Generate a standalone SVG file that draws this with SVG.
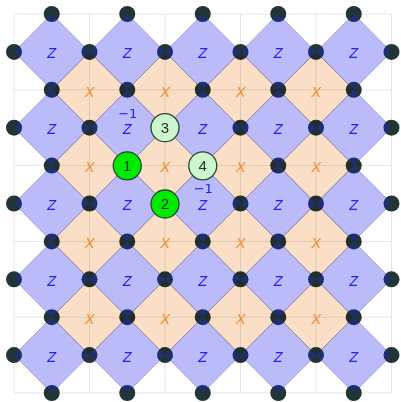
<svg xmlns="http://www.w3.org/2000/svg" width="401" height="402" viewBox="0 0 401 402">
<style>
.grid line{stroke:#e6e6e6;stroke-width:1}
.dot{fill:#213535}
.ed{fill:none;stroke:#9090a8;stroke-width:0.8;stroke-opacity:0.7}
.zd{fill:#1e1ef0;fill-opacity:0.3}
.xd{fill:#fadec6;mix-blend-mode:multiply}
.zt{fill:#2020f0;font-family:"Liberation Sans",Arial,sans-serif;font-style:italic;font-size:14.5px;text-anchor:middle}
.xt{fill:#f08a28;font-family:"Liberation Sans",Arial,sans-serif;font-style:italic;font-size:14.5px;text-anchor:middle}
.m1{fill:#2020f0;font-family:"DejaVu Sans",sans-serif;font-size:13px;text-anchor:middle}
.q circle{stroke:#2a4636;stroke-width:1.3}
.q text{fill:#1c3024;font-family:"Liberation Sans",Arial,sans-serif;font-size:15px;text-anchor:middle}
.on{fill:#00ea00}
.off{fill:#cdf6cd}
</style>
<defs>
<circle id="d" class="dot" r="8"/>
<path id="de" class="ed" d="M-37.75,0L0,-37.9L37.75,0L0,37.9Z"/>
<path id="dz" class="zd" d="M-37.75,0L0,-37.9L37.75,0L0,37.9Z"/>
<path id="dx" class="xd" d="M-37.75,0L0,-37.9L37.75,0L0,37.9Z"/>
</defs>
<rect width="401" height="402" fill="#ffffff"/>
<g id="connectors" class="grid">
<line x1="14" y1="14" x2="14" y2="393"/>
<line x1="89.5" y1="14" x2="89.5" y2="393"/>
<line x1="165" y1="14" x2="165" y2="393"/>
<line x1="240.5" y1="14" x2="240.5" y2="393"/>
<line x1="316" y1="14" x2="316" y2="393"/>
<line x1="391.5" y1="14" x2="391.5" y2="393"/>
<line x1="14" y1="14" x2="391.5" y2="14"/>
<line x1="14" y1="89.8" x2="391.5" y2="89.8"/>
<line x1="14" y1="165.6" x2="391.5" y2="165.6"/>
<line x1="14" y1="241.4" x2="391.5" y2="241.4"/>
<line x1="14" y1="317.2" x2="391.5" y2="317.2"/>
<line x1="14" y1="393" x2="391.5" y2="393"/>
</g>
<g id="plaquette-edges">
<use href="#de" x="51.75" y="51.9"/><use href="#de" x="127.25" y="51.9"/><use href="#de" x="202.75" y="51.9"/><use href="#de" x="278.25" y="51.9"/><use href="#de" x="353.75" y="51.9"/>
<use href="#de" x="51.75" y="127.7"/><use href="#de" x="127.25" y="127.7"/><use href="#de" x="202.75" y="127.7"/><use href="#de" x="278.25" y="127.7"/><use href="#de" x="353.75" y="127.7"/>
<use href="#de" x="51.75" y="203.5"/><use href="#de" x="127.25" y="203.5"/><use href="#de" x="202.75" y="203.5"/><use href="#de" x="278.25" y="203.5"/><use href="#de" x="353.75" y="203.5"/>
<use href="#de" x="51.75" y="279.3"/><use href="#de" x="127.25" y="279.3"/><use href="#de" x="202.75" y="279.3"/><use href="#de" x="278.25" y="279.3"/><use href="#de" x="353.75" y="279.3"/>
<use href="#de" x="51.75" y="355.1"/><use href="#de" x="127.25" y="355.1"/><use href="#de" x="202.75" y="355.1"/><use href="#de" x="278.25" y="355.1"/><use href="#de" x="353.75" y="355.1"/>
<use href="#de" x="89.5" y="89.8"/><use href="#de" x="165" y="89.8"/><use href="#de" x="240.5" y="89.8"/><use href="#de" x="316" y="89.8"/>
<use href="#de" x="89.5" y="165.6"/><use href="#de" x="165" y="165.6"/><use href="#de" x="240.5" y="165.6"/><use href="#de" x="316" y="165.6"/>
<use href="#de" x="89.5" y="241.4"/><use href="#de" x="165" y="241.4"/><use href="#de" x="240.5" y="241.4"/><use href="#de" x="316" y="241.4"/>
<use href="#de" x="89.5" y="317.2"/><use href="#de" x="165" y="317.2"/><use href="#de" x="240.5" y="317.2"/><use href="#de" x="316" y="317.2"/>
</g>
<g id="qubits">
<use href="#d" x="51.75" y="14"/><use href="#d" x="127.25" y="14"/><use href="#d" x="202.75" y="14"/><use href="#d" x="278.25" y="14"/><use href="#d" x="353.75" y="14"/>
<use href="#d" x="14" y="51.9"/><use href="#d" x="89.5" y="51.9"/><use href="#d" x="165" y="51.9"/><use href="#d" x="240.5" y="51.9"/><use href="#d" x="316" y="51.9"/><use href="#d" x="391.5" y="51.9"/>
<use href="#d" x="51.75" y="89.8"/><use href="#d" x="127.25" y="89.8"/><use href="#d" x="202.75" y="89.8"/><use href="#d" x="278.25" y="89.8"/><use href="#d" x="353.75" y="89.8"/>
<use href="#d" x="14" y="127.7"/><use href="#d" x="89.5" y="127.7"/><use href="#d" x="165" y="127.7"/><use href="#d" x="240.5" y="127.7"/><use href="#d" x="316" y="127.7"/><use href="#d" x="391.5" y="127.7"/>
<use href="#d" x="51.75" y="165.6"/><use href="#d" x="127.25" y="165.6"/><use href="#d" x="202.75" y="165.6"/><use href="#d" x="278.25" y="165.6"/><use href="#d" x="353.75" y="165.6"/>
<use href="#d" x="14" y="203.5"/><use href="#d" x="89.5" y="203.5"/><use href="#d" x="165" y="203.5"/><use href="#d" x="240.5" y="203.5"/><use href="#d" x="316" y="203.5"/><use href="#d" x="391.5" y="203.5"/>
<use href="#d" x="51.75" y="241.4"/><use href="#d" x="127.25" y="241.4"/><use href="#d" x="202.75" y="241.4"/><use href="#d" x="278.25" y="241.4"/><use href="#d" x="353.75" y="241.4"/>
<use href="#d" x="14" y="279.3"/><use href="#d" x="89.5" y="279.3"/><use href="#d" x="165" y="279.3"/><use href="#d" x="240.5" y="279.3"/><use href="#d" x="316" y="279.3"/><use href="#d" x="391.5" y="279.3"/>
<use href="#d" x="51.75" y="317.2"/><use href="#d" x="127.25" y="317.2"/><use href="#d" x="202.75" y="317.2"/><use href="#d" x="278.25" y="317.2"/><use href="#d" x="353.75" y="317.2"/>
<use href="#d" x="14" y="355.1"/><use href="#d" x="89.5" y="355.1"/><use href="#d" x="165" y="355.1"/><use href="#d" x="240.5" y="355.1"/><use href="#d" x="316" y="355.1"/><use href="#d" x="391.5" y="355.1"/>
<use href="#d" x="51.75" y="393"/><use href="#d" x="127.25" y="393"/><use href="#d" x="202.75" y="393"/><use href="#d" x="278.25" y="393"/><use href="#d" x="353.75" y="393"/>
</g>
<g id="z-plaquettes">
<g id="z11"><use href="#dz" x="51.75" y="51.9"/><text class="zt" x="51.75" y="58.4">Z</text></g>
<g id="z31"><use href="#dz" x="127.25" y="51.9"/><text class="zt" x="127.25" y="58.4">Z</text></g>
<g id="z51"><use href="#dz" x="202.75" y="51.9"/><text class="zt" x="202.75" y="58.4">Z</text></g>
<g id="z71"><use href="#dz" x="278.25" y="51.9"/><text class="zt" x="278.25" y="58.4">Z</text></g>
<g id="z91"><use href="#dz" x="353.75" y="51.9"/><text class="zt" x="353.75" y="58.4">Z</text></g>
<g id="z13"><use href="#dz" x="51.75" y="127.7"/><text class="zt" x="51.75" y="134.2">Z</text></g>
<g id="z33"><use href="#dz" x="127.25" y="127.7"/><text class="zt" x="127.25" y="134.2">Z</text><text class="m1" x="127.8" y="117.5">−1</text></g>
<g id="z53"><use href="#dz" x="202.75" y="127.7"/><text class="zt" x="202.75" y="134.2">Z</text></g>
<g id="z73"><use href="#dz" x="278.25" y="127.7"/><text class="zt" x="278.25" y="134.2">Z</text></g>
<g id="z93"><use href="#dz" x="353.75" y="127.7"/><text class="zt" x="353.75" y="134.2">Z</text></g>
<g id="z15"><use href="#dz" x="51.75" y="203.5"/><text class="zt" x="51.75" y="210">Z</text></g>
<g id="z35"><use href="#dz" x="127.25" y="203.5"/><text class="zt" x="127.25" y="210">Z</text></g>
<g id="z55"><use href="#dz" x="202.75" y="203.5"/><text class="zt" x="202.75" y="210">Z</text><text class="m1" x="203.3" y="192.8">−1</text></g>
<g id="z75"><use href="#dz" x="278.25" y="203.5"/><text class="zt" x="278.25" y="210">Z</text></g>
<g id="z95"><use href="#dz" x="353.75" y="203.5"/><text class="zt" x="353.75" y="210">Z</text></g>
<g id="z17"><use href="#dz" x="51.75" y="279.3"/><text class="zt" x="51.75" y="285.8">Z</text></g>
<g id="z37"><use href="#dz" x="127.25" y="279.3"/><text class="zt" x="127.25" y="285.8">Z</text></g>
<g id="z57"><use href="#dz" x="202.75" y="279.3"/><text class="zt" x="202.75" y="285.8">Z</text></g>
<g id="z77"><use href="#dz" x="278.25" y="279.3"/><text class="zt" x="278.25" y="285.8">Z</text></g>
<g id="z97"><use href="#dz" x="353.75" y="279.3"/><text class="zt" x="353.75" y="285.8">Z</text></g>
<g id="z19"><use href="#dz" x="51.75" y="355.1"/><text class="zt" x="51.75" y="361.6">Z</text></g>
<g id="z39"><use href="#dz" x="127.25" y="355.1"/><text class="zt" x="127.25" y="361.6">Z</text></g>
<g id="z59"><use href="#dz" x="202.75" y="355.1"/><text class="zt" x="202.75" y="361.6">Z</text></g>
<g id="z79"><use href="#dz" x="278.25" y="355.1"/><text class="zt" x="278.25" y="361.6">Z</text></g>
<g id="z99"><use href="#dz" x="353.75" y="355.1"/><text class="zt" x="353.75" y="361.6">Z</text></g>
</g>
<g id="x-plaquettes">
<g id="x22"><use href="#dx" x="89.5" y="89.8"/><text class="xt" x="89.5" y="96.5">X</text></g>
<g id="x42"><use href="#dx" x="165" y="89.8"/><text class="xt" x="165" y="96.5">X</text></g>
<g id="x62"><use href="#dx" x="240.5" y="89.8"/><text class="xt" x="240.5" y="96.5">X</text></g>
<g id="x82"><use href="#dx" x="316" y="89.8"/><text class="xt" x="316" y="96.5">X</text></g>
<g id="x24"><use href="#dx" x="89.5" y="165.6"/><text class="xt" x="89.5" y="172.3">X</text></g>
<g id="x44"><use href="#dx" x="165" y="165.6"/><text class="xt" x="165" y="172.3">X</text></g>
<g id="x64"><use href="#dx" x="240.5" y="165.6"/><text class="xt" x="240.5" y="172.3">X</text></g>
<g id="x84"><use href="#dx" x="316" y="165.6"/><text class="xt" x="316" y="172.3">X</text></g>
<g id="x26"><use href="#dx" x="89.5" y="241.4"/><text class="xt" x="89.5" y="248.1">X</text></g>
<g id="x46"><use href="#dx" x="165" y="241.4"/><text class="xt" x="165" y="248.1">X</text></g>
<g id="x66"><use href="#dx" x="240.5" y="241.4"/><text class="xt" x="240.5" y="248.1">X</text></g>
<g id="x86"><use href="#dx" x="316" y="241.4"/><text class="xt" x="316" y="248.1">X</text></g>
<g id="x28"><use href="#dx" x="89.5" y="317.2"/><text class="xt" x="89.5" y="323.9">X</text></g>
<g id="x48"><use href="#dx" x="165" y="317.2"/><text class="xt" x="165" y="323.9">X</text></g>
<g id="x68"><use href="#dx" x="240.5" y="317.2"/><text class="xt" x="240.5" y="323.9">X</text></g>
<g id="x88"><use href="#dx" x="316" y="317.2"/><text class="xt" x="316" y="323.9">X</text></g>
</g>
<g id="q1" class="q"><circle class="on" cx="127.25" cy="165.8" r="14"/><text x="127.25" y="171.2">1</text></g>
<g id="q2" class="q"><circle class="on" cx="165" cy="204" r="14"/><text x="165" y="209.4">2</text></g>
<g id="q3" class="q"><circle class="off" cx="165" cy="127.7" r="14"/><text x="165" y="133.1">3</text></g>
<g id="q4" class="q"><circle class="off" cx="202.75" cy="165.8" r="14"/><text x="202.75" y="171.2">4</text></g>
</svg>
